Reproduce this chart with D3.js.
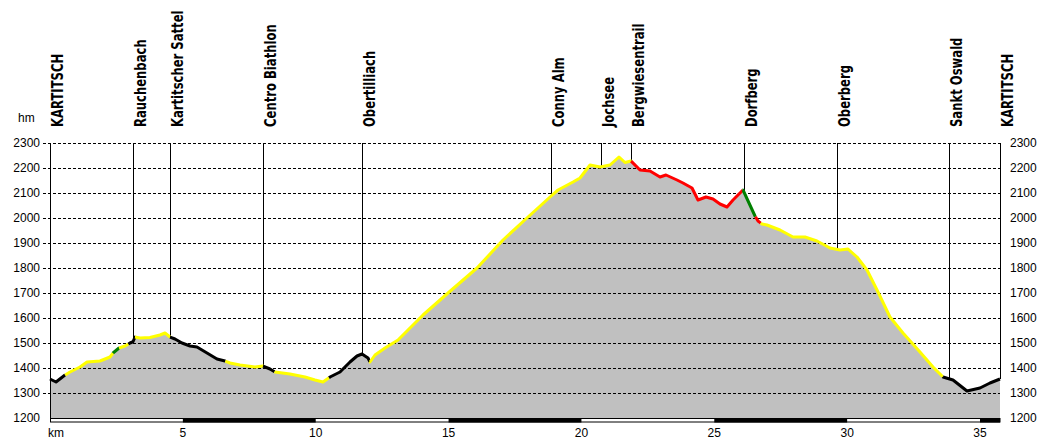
<!DOCTYPE html>
<html>
<head>
<meta charset="utf-8">
<script src="https://cdn.jsdelivr.net/npm/d3@7"></script>
<style>
  body { margin: 0; background: #fff; }
  svg { display: block; }
</style>
</head>
<body>
<svg id="chart" width="1050" height="443"></svg>
<script>
// profile, km along the route and height in m
var distKm = [0, 0.226, 0.565, 0.753, 1.129, 1.393, 1.882, 2.258, 2.371, 2.597, 2.823, 3.011, 3.124, 3.199,
	3.387, 3.763, 4.140, 4.328, 4.516, 4.704, 4.968, 5.269, 5.532, 5.909, 6.285, 6.586, 6.774, 7.151, 7.715,
	8.016, 8.280, 8.468, 9.032, 9.597, 9.973, 10.274, 10.538, 10.914, 11.290, 11.554, 11.742, 11.968, 12.043,
	12.231, 12.608, 13.097, 14.038, 14.979, 16.070, 17.049, 17.990, 18.818, 19.119, 19.683, 19.946, 20.323,
	20.699, 21.075, 21.414, 21.640, 21.866, 22.205, 22.581, 22.957, 23.183, 23.597, 23.823, 24.162, 24.387,
	24.689, 24.952, 25.215, 25.479, 25.705, 26.081, 26.533, 26.646, 26.796, 26.984, 27.474, 27.963, 28.414,
	28.866, 29.355, 29.731, 30.033, 30.371, 30.748, 31.162, 31.613, 32.102, 32.742, 33.232, 33.608, 33.984,
	34.511, 35.000, 35.377, 35.753];
var elevM = [1356, 1344, 1372, 1384, 1404, 1424, 1428, 1444, 1460, 1480, 1488, 1500, 1505, 1524,
	1520, 1522, 1532, 1540, 1524, 1516, 1500, 1488, 1484, 1460, 1436, 1428, 1420, 1412, 1404,
	1408, 1396, 1384, 1376, 1364, 1352, 1344, 1364, 1384, 1424, 1448, 1456, 1440, 1424,
	1452, 1480, 1512, 1612, 1700, 1800, 1912, 2004, 2084, 2112, 2144, 2160, 2212,
	2204, 2212, 2244, 2222, 2228, 2192, 2188, 2164, 2172, 2152, 2140, 2120, 2072,
	2084, 2076, 2056, 2044, 2072, 2112, 2008, 1988, 1976, 1972, 1952, 1924, 1924,
	1908, 1880, 1872, 1876, 1844, 1792, 1704, 1604, 1540, 1464, 1404, 1364, 1352,
	1308, 1320, 1340, 1356];

// surface colour of each stretch
var segFrom = [0, 0.57, 2.37, 2.6, 2.95, 3.2, 4.52, 6.6, 8.02, 8.45, 10.5, 12.04, 21.87, 26.08, 26.55, 26.75, 33.6];
var segColor = ['black', 'yellow', 'green', 'yellow', 'black', 'yellow', 'black', 'yellow', 'black', 'yellow',
	'black', 'yellow', 'red', 'green', 'red', 'yellow', 'black'];

var wayNames = ['KARTITSCH', 'Rauchenbach', 'Kartitscher Sattel', 'Centro Biathlon', 'Obertilliach', 'Conny Alm',
	'Jochsee', 'Bergwiesentrail', 'Dorfberg', 'Oberberg', 'Sankt Oswald', 'KARTITSCH'];
var wayKm = [0, 3.12, 4.52, 8.02, 11.74, 18.86, 20.74, 21.87, 26.1, 29.62, 33.83, 35.753];

var yTicks = [1200, 1300, 1400, 1500, 1600, 1700, 1800, 1900, 2000, 2100, 2200, 2300];
var xTicks = [5, 10, 15, 20, 25, 30, 35];

var colors = { black: '#000000', yellow: '#ffff00', green: '#008000', red: '#ff0000' };
var totalKm = distKm[distKm.length - 1];

var svg = d3.select('#chart');
var x = d3.scaleLinear().domain([0, totalKm]).range([50, 1000]);
var y = d3.scaleLinear().domain([1200, 2300]).range([418, 143]);

var pts = distKm.map(function(d, i) { return [d, elevM[i]]; });
var bis = d3.bisector(function(d) { return d[0]; }).left;

function elevAt(k) {
	var i = bis(pts, k);
	if (i <= 0) return pts[0][1];
	if (i >= pts.length) return pts[pts.length - 1][1];
	var a = pts[i - 1], b = pts[i];
	return a[1] + (b[1] - a[1]) * (k - a[0]) / (b[0] - a[0]);
}

// grey ground
var area = d3.area()
	.x(function(d) { return x(d[0]); })
	.y0(y(1200))
	.y1(function(d) { return y(d[1]); });
svg.append('path')
	.datum(pts)
	.attr('d', area)
	.attr('fill', '#c0c0c0');

// dashed grid
svg.selectAll('.grid')
	.data(yTicks.slice(1))
	.enter().append('line')
	.attr('x1', 43)
	.attr('x2', x(totalKm))
	.attr('y1', function(d) { return y(d) + 0.5; })
	.attr('y2', function(d) { return y(d) + 0.5; })
	.attr('stroke', '#000')
	.attr('stroke-width', 1)
	.attr('stroke-dasharray', '3,2');

// left edge
svg.append('line')
	.attr('x1', 50.5).attr('x2', 50.5)
	.attr('y1', y(2300)).attr('y2', 422)
	.attr('stroke', '#000');

// waypoint lines
svg.selectAll('.way')
	.data(wayKm)
	.enter().append('line')
	.attr('x1', function(d) { return Math.round(x(d)) + 0.5; })
	.attr('x2', function(d) { return Math.round(x(d)) + 0.5; })
	.attr('y1', y(2300))
	.attr('y2', function(d) { return y(elevAt(d)); })
	.attr('stroke', '#000')
	.attr('stroke-width', 1);

// coloured surface line
var line = d3.line()
	.x(function(d) { return x(d[0]); })
	.y(function(d) { return y(d[1]); });
segFrom.forEach(function(a, i) {
	var b = i < segFrom.length - 1 ? segFrom[i + 1] : totalKm;
	var seg = [[a, elevAt(a)]];
	pts.forEach(function(p) { if (p[0] > a && p[0] < b) seg.push(p); });
	seg.push([b, elevAt(b)]);
	svg.append('path')
		.attr('d', line(seg))
		.attr('fill', 'none')
		.attr('stroke', colors[segColor[i]])
		.attr('stroke-width', 3)
		.attr('stroke-linejoin', 'round');
});

// waypoint names
svg.selectAll('.wname')
	.data(wayNames)
	.enter().append('text')
	.attr('transform', function(d, i) {
		return 'translate(' + (Math.round(x(wayKm[i])) + 12.5) + ',127) rotate(-90) scale(0.775,1)';
	})
	.attr('font-family', 'DejaVu Sans, sans-serif')
	.attr('font-weight', 'bold')
	.attr('font-size', 15)
	.attr('fill', '#000')
	.text(function(d) { return d; });

// height labels both sides
var labFont = 'Liberation Sans, Arial, sans-serif';
svg.selectAll('.yl')
	.data(yTicks)
	.enter().append('text')
	.attr('x', 40)
	.attr('y', function(d) { return y(d) + 4; })
	.attr('text-anchor', 'end')
	.attr('font-family', labFont)
	.attr('font-size', 12)
	.text(function(d) { return d; });
svg.selectAll('.yr')
	.data(yTicks)
	.enter().append('text')
	.attr('x', 1010)
	.attr('y', function(d) { return y(d) + 4; })
	.attr('font-family', labFont)
	.attr('font-size', 12)
	.text(function(d) { return d; });
svg.append('text')
	.attr('x', 18).attr('y', 122)
	.attr('font-family', labFont)
	.attr('font-size', 12)
	.text('hm');

// km bar
svg.append('rect')
	.attr('x', 50.5).attr('y', 418.5)
	.attr('width', x(totalKm) - 50.5).attr('height', 3.5)
	.attr('fill', '#fff')
	.attr('stroke', '#000');
svg.selectAll('.kmbar')
	.data(d3.range(5, totalKm, 10))
	.enter().append('rect')
	.attr('x', function(d) { return x(d); })
	.attr('y', 418)
	.attr('width', function(d) { return x(Math.min(d + 5, totalKm)) - x(d); })
	.attr('height', 4.5)
	.attr('fill', '#000');

svg.selectAll('.xl')
	.data(xTicks)
	.enter().append('text')
	.attr('x', function(d) { return x(d); })
	.attr('y', 437)
	.attr('text-anchor', 'middle')
	.attr('font-family', labFont)
	.attr('font-size', 12)
	.text(function(d) { return d; });
svg.append('text')
	.attr('x', 48).attr('y', 437)
	.attr('font-family', labFont)
	.attr('font-size', 12)
	.text('km');
</script>
</body>
</html>
